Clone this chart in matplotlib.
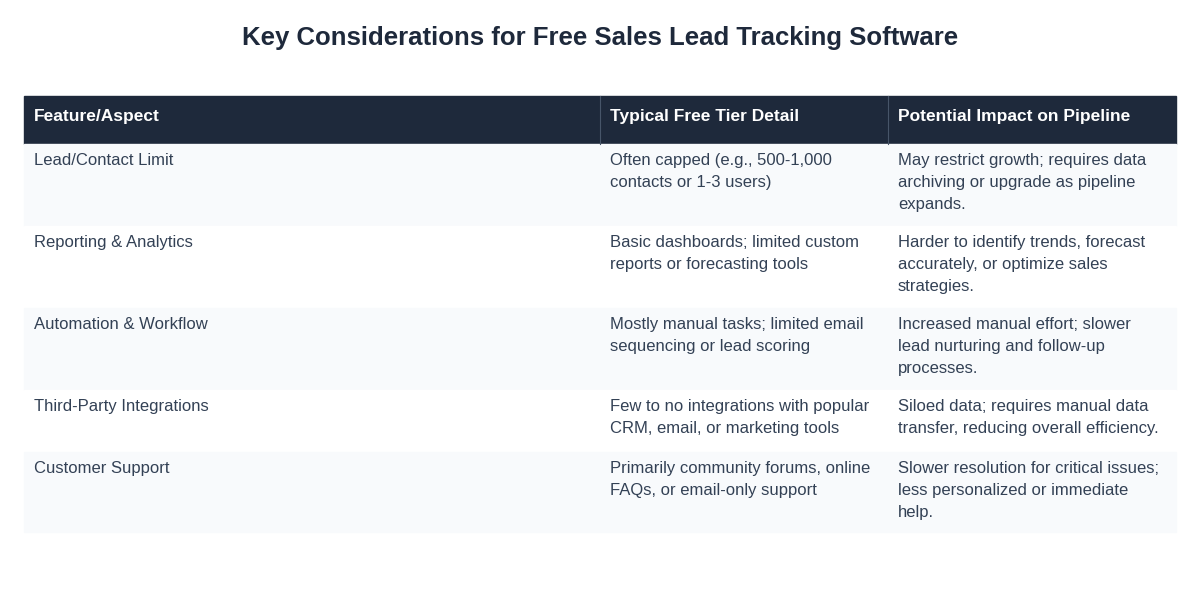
import matplotlib.pyplot as plt
from matplotlib.patches import Rectangle

title = "Key Considerations for Free Sales Lead Tracking Software"
headers = ["Feature/Aspect", "Typical Free Tier Detail", "Potential Impact on Pipeline"]
features = ["Lead/Contact Limit", "Reporting & Analytics", "Automation & Workflow",
            "Third-Party Integrations", "Customer Support"]
details = ["Often capped (e.g., 500-1,000\ncontacts or 1-3 users)",
           "Basic dashboards; limited custom\nreports or forecasting tools",
           "Mostly manual tasks; limited email\nsequencing or lead scoring",
           "Few to no integrations with popular\nCRM, email, or marketing tools",
           "Primarily community forums, online\nFAQs, or email-only support"]
impacts = ["May restrict growth; requires data\narchiving or upgrade as pipeline\nexpands.",
           "Harder to identify trends, forecast\naccurately, or optimize sales\nstrategies.",
           "Increased manual effort; slower\nlead nurturing and follow-up\nprocesses.",
           "Siloed data; requires manual data\ntransfer, reducing overall efficiency.",
           "Slower resolution for critical issues;\nless personalized or immediate\nhelp."]

col_x = [24, 600, 888, 1176]
row_y = [144, 226, 308, 390, 452, 532]

fig = plt.figure(figsize=(12, 6), dpi=100)
ax = fig.add_axes([0, 0, 1, 1])
ax.set_xlim(0, 1200)
ax.set_ylim(600, 0)
ax.axis("off")

ax.text(600, 38, title, ha="center", va="center", fontsize=18.5, fontweight="bold",
        color="#1e293b", family="Liberation Sans")

# header
ax.add_patch(Rectangle((col_x[0], 96), col_x[-1] - col_x[0], 48, color="#1e293b"))
for i, h in enumerate(headers):
    ax.text(col_x[i] + 10, 116, h, ha="left", va="center", fontsize=12.5,
            fontweight="bold", color="white", family="Liberation Sans")
for x in col_x[1:-1]:
    ax.plot([x, x], [96, 144], color="#475569", lw=0.8)

for r in range(len(features)):
    bg = "#f8fafc" if r % 2 == 0 else "white"
    ax.add_patch(Rectangle((col_x[0], row_y[r]), col_x[-1] - col_x[0],
                           row_y[r + 1] - row_y[r], color=bg))
    for i, txt in enumerate([features[r], details[r], impacts[r]]):
        ax.text(col_x[i] + 10, row_y[r] + 9, txt, ha="left", va="top", fontsize=12,
                color="#334155", family="Liberation Sans", linespacing=1.6)

fig.savefig("out.png", dpi=100, facecolor="white")
